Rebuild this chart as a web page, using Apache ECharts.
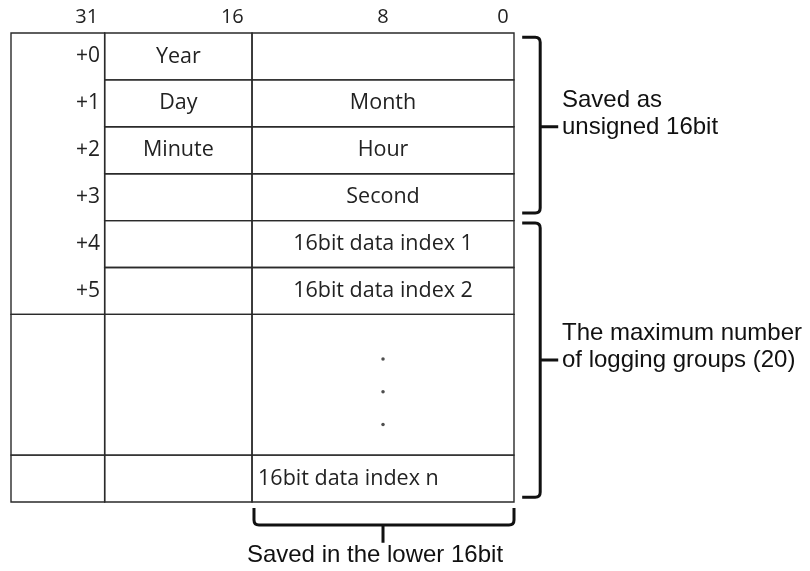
<!DOCTYPE html>
<html><head><meta charset="utf-8">
<script src="https://cdn.jsdelivr.net/npm/echarts@6/dist/echarts.min.js"></script>
<style>html,body{margin:0;padding:0;background:#fff}#c{width:810px;height:571px}</style>
</head><body><div id="c"></div>
<script>
// Bit positions of column edges: offset column | upper 16 bit | lower 16 bit
const columnEdges = [30.72, 25, 16, 0];
const offsets = ['+0', '+1', '+2', '+3', '+4', '+5'];
const upperFields = ['Year', 'Day', 'Minute', '', '', ''];
const lowerFields = ['', 'Month', 'Hour', 'Second', '16bit data index 1', '16bit data index 2'];
const lastField = '16bit data index n';
const bitTicks = ['31', '16', '8', '0'];
const bitTickPos = [26.1, 17.2, 8.0, 0.67];
const gapBlock = [6, 9];
const dotRows = [6.95, 7.65, 8.35];
const totalRows = 10;
const braceLabels = ['Saved as\nunsigned 16bit', 'The maximum number\nof logging groups (20)'];
const braceSpans = [[0.09, 3.84, 2.0], [4.05, 9.9, 6.97]];
const bottomLabel = 'Saved in the lower 16bit';
const bottomSpan = [15.88, 0, 8];

const TABLE_FONT = '"Open Sans", "Noto Sans", sans-serif';
const NOTE_FONT = '"Liberation Sans", Arial, sans-serif';

// ---- cells ----
const cells = [];
const [c0, c1, c2, c3] = columnEdges;
cells.push([c0, c1, 0, gapBlock[0]]);
cells.push([c0, c1, gapBlock[0], gapBlock[1]]);
cells.push([c0, c1, gapBlock[1], totalRows]);
for (let r = 0; r < offsets.length; r++) {
  cells.push([c1, c2, r, r + 1]);
  cells.push([c2, c3, r, r + 1]);
}
[[gapBlock[0], gapBlock[1]], [gapBlock[1], totalRows]].forEach(([a, b]) => {
  cells.push([c1, c2, a, b]);
  cells.push([c2, c3, a, b]);
});

// ---- texts ----
const texts = [];
bitTicks.forEach((t, i) => texts.push({x: bitTickPos[i], y: -0.34, text: t, align: 'center', size: 20, font: TABLE_FONT, color: '#222'}));
offsets.forEach((t, i) => texts.push({x: c1 + 0.28, y: i + 0.5, text: t, align: 'right', size: 21, font: TABLE_FONT, color: '#222'}));
upperFields.forEach((t, i) => { if (t) texts.push({x: (c1 + c2) / 2, y: i + 0.5, text: t, align: 'center', size: 21.5, font: TABLE_FONT, color: '#222'}); });
lowerFields.forEach((t, i) => { if (t) texts.push({x: (c2 + c3) / 2, y: i + 0.5, text: t, align: 'center', size: 21.5, font: TABLE_FONT, color: '#222'}); });
texts.push({x: c2 - 0.37, y: totalRows - 0.5, text: lastField, align: 'left', size: 21.5, font: TABLE_FONT, color: '#222'});
braceLabels.forEach((t, i) => texts.push({x: -2.93, y: braceSpans[i][2] - 0.28, text: t, align: 'left', size: 24, font: NOTE_FONT, color: '#111', lh: 27}));
texts.push({x: 8.49, y: 11.13, text: bottomLabel, align: 'center', size: 24, font: NOTE_FONT, color: '#111'});

const chart = echarts.init(document.getElementById('c'), null, {renderer: 'canvas'});
chart.setOption({
  animation: false,
  backgroundColor: '#fff',
  grid: {left: 11, right: 296, top: 33, bottom: 69},
  xAxis: {type: 'value', min: 0, max: columnEdges[0], inverse: true, show: false},
  yAxis: {type: 'value', min: 0, max: totalRows, inverse: true, show: false},
  series: [
    {
      type: 'custom', clip: false, silent: true,
      data: cells.map(c => [(c[0] + c[1]) / 2, (c[2] + c[3]) / 2]),
      renderItem(params, api) {
        const c = cells[params.dataIndex];
        const a = api.coord([c[0], c[2]]), b = api.coord([c[1], c[3]]);
        return {type: 'rect', shape: {x: Math.min(a[0], b[0]), y: Math.min(a[1], b[1]), width: Math.abs(b[0] - a[0]), height: Math.abs(b[1] - a[1])},
          style: {fill: 'none', stroke: '#2a2a2a', lineWidth: 1.4}};
      }
    },
    {
      type: 'scatter', silent: true, symbol: 'circle', symbolSize: 3.5,
      itemStyle: {color: '#222'},
      data: dotRows.map(r => [(c2 + c3) / 2, r])
    },
    {
      type: 'custom', clip: false, silent: true,
      data: braceSpans.map(s => [-1.6, s[2]]),
      renderItem(params, api) {
        const s = braceSpans[params.dataIndex];
        const top = api.coord([-1.6, s[0]]), bot = api.coord([-1.6, s[1]]), mid = api.coord([-1.6, s[2]]);
        const hx = api.coord([-0.5, 0])[0], tx = api.coord([-2.7, 0])[0];
        const X = top[0], y0 = top[1], y1 = bot[1], ym = mid[1], r = 5;
        const d = `M${hx},${y0} L${X - r},${y0} Q${X},${y0} ${X},${y0 + r} L${X},${y1 - r} Q${X},${y1} ${X - r},${y1} L${hx},${y1} M${X},${ym} L${tx},${ym}`;
        return {type: 'path', shape: {pathData: d}, style: {fill: 'none', stroke: '#111', lineWidth: 3}};
      }
    },
    {
      type: 'custom', clip: false, silent: true,
      data: [[bottomSpan[2], 10.5]],
      renderItem(params, api) {
        const a = api.coord([bottomSpan[0], 10.13]), b = api.coord([bottomSpan[1], 10.49]), m = api.coord([bottomSpan[2], 10.87]);
        const x0 = a[0], x1 = b[0], yt = a[1], yl = b[1], xm = m[0], ye = m[1], r = 5;
        const d = `M${x0},${yt} L${x0},${yl - r} Q${x0},${yl} ${x0 + r},${yl} L${x1 - r},${yl} Q${x1},${yl} ${x1},${yl - r} L${x1},${yt} M${xm},${yl} L${xm},${ye}`;
        return {type: 'path', shape: {pathData: d}, style: {fill: 'none', stroke: '#111', lineWidth: 3}};
      }
    },
    {
      type: 'custom', clip: false, silent: true,
      data: texts.map(t => [t.x, t.y]),
      renderItem(params, api) {
        const t = texts[params.dataIndex];
        const p = api.coord([t.x, t.y]);
        return {type: 'text', x: p[0], y: p[1], style: {text: t.text, fill: t.color, fontSize: t.size, fontFamily: t.font,
          align: t.align, verticalAlign: 'middle', lineHeight: t.lh || t.size * 1.2}};
      }
    }
  ]
});
</script></body></html>
